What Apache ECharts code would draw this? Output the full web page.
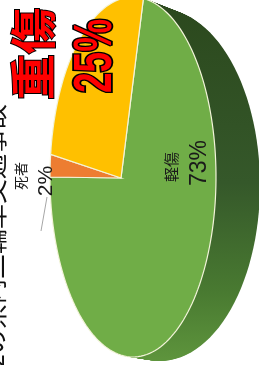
<!DOCTYPE html>
<html>
<head>
<meta charset="utf-8">
<script src="https://cdn.jsdelivr.net/npm/echarts@6/dist/echarts.min.js"></script>
<style>
  html, body { margin: 0; padding: 0; background: #fff; }
  #chart { width: 259px; height: 365px; }
</style>
</head>
<body>
<div id="chart"></div>
<script>
const names = ["軽傷", "死者", "重傷"];
const values = [73, 2, 25];
const colors = ["#70ad47", "#ed7d31", "#ffc000"];
const title = "2の県内二輪車交通事故";

const total = values.reduce((a, b) => a + b, 0);

// top face of the tilted pie (turned on its side)
const face = { cx: 133, cy: 177, rx: 83, ry: 180 };
// far rim of the pie, the side is swept between the two
const back = { cx: 160, cy: 185, rx: 100, ry: 176 };
const apexX = 121, apexY = 178;
const startDeg = -82.8;

function ellipsePts(e, a0, a1, n) {
  const pts = [];
  for (let j = 0; j <= n; j++) {
    const t = (a0 + (a1 - a0) * j / n) * Math.PI / 180;
    pts.push([e.cx + e.rx * Math.cos(t), e.cy + e.ry * Math.sin(t)]);
  }
  return pts;
}

const sideFill = new echarts.graphic.LinearGradient(0, 0, 0, 365, [
  { offset: 0, color: "#2b481d" },
  { offset: 0.5, color: "#35582a" },
  { offset: 0.8, color: "#497a31" },
  { offset: 1, color: "#5f963d" }
], true);

const chart = echarts.init(document.getElementById("chart"));

chart.setOption({
  animation: false,
  series: [
    {
      // the depth of the pie
      type: "custom",
      coordinateSystem: "none",
      z: 1,
      silent: true,
      data: [0],
      renderItem: function () {
        const children = [];
        const steps = 40;
        for (let s = steps; s >= 1; s--) {
          const f = s / steps;
          const e = {
            cx: face.cx + (back.cx - face.cx) * f,
            cy: face.cy + (back.cy - face.cy) * f,
            rx: face.rx + (back.rx - face.rx) * f,
            ry: face.ry + (back.ry - face.ry) * f
          };
          children.push({
            type: "polygon",
            shape: { points: ellipsePts(e, 0, 360, 120) },
            style: { fill: sideFill }
          });
        }
        return { type: "group", children: children };
      }
    },
    {
      type: "custom",
      coordinateSystem: "none",
      z: 2,
      data: values.map((v, i) => ({ value: v, name: names[i] })),
      renderItem: function (params, api) {
        const i = params.dataIndex;
        let acc = 0;
        for (let k = 0; k < i; k++) acc += values[k];
        const a0 = startDeg + acc / total * 360;
        const a1 = a0 + api.value(0) / total * 360;
        const n = Math.max(4, Math.ceil((a1 - a0) / 2));
        const pts = [[apexX, apexY]].concat(ellipsePts(face, a0, a1, n));
        return {
          type: "polygon",
          shape: { points: pts },
          style: { fill: colors[i], stroke: "#f3f4da", lineWidth: 1.2 }
        };
      }
    }
  ],
  graphic: [
    {
      type: "text", z: 100, x: -6, y: 104, rotation: Math.PI / 2,
      style: {
        text: title, font: '25px "Noto Sans CJK JP"', fill: "#111",
        align: "right", verticalAlign: "middle"
      }
    },
    {
      type: "text", z: 100, x: 33, y: 54, rotation: Math.PI / 2,
      style: {
        text: names[2], font: 'bold 46px "Noto Sans CJK JP"', fill: "#ff0000",
        stroke: "#000", lineWidth: 2, align: "center", verticalAlign: "middle"
      }
    },
    {
      type: "text", z: 100, x: 96, y: 56, rotation: Math.PI / 2, scaleY: 1.45,
      style: {
        text: values[2] + "%", font: 'bold 37px "Liberation Sans"', fill: "#ff0000",
        stroke: "#000", lineWidth: 2.5, align: "center", verticalAlign: "middle"
      }
    },
    {
      type: "text", z: 100, x: 171, y: 167, rotation: Math.PI / 2,
      style: {
        text: names[0], font: '15px "Noto Sans CJK JP"', fill: "#1a1a1a",
        align: "center", verticalAlign: "middle"
      }
    },
    {
      type: "text", z: 100, x: 200, y: 163, rotation: Math.PI / 2,
      style: {
        text: values[0] + "%", font: '23px "Liberation Sans"', fill: "#1a1a1a",
        align: "center", verticalAlign: "middle"
      }
    },
    {
      type: "text", z: 100, x: 21, y: 176, rotation: Math.PI / 2,
      style: {
        text: names[1], font: '14px "Noto Sans CJK JP"', fill: "#1a1a1a",
        align: "center", verticalAlign: "middle"
      }
    },
    {
      type: "text", z: 100, x: 46, y: 181, rotation: Math.PI / 2,
      style: {
        text: values[1] + "%", font: '21px "Liberation Sans"', fill: "#1a1a1a",
        align: "center", verticalAlign: "middle"
      }
    },
    {
      type: "line", z: 100,
      shape: { x1: 47, y1: 197, x2: 41, y2: 231 },
      style: { stroke: "#a6a6a6", lineWidth: 1 }
    }
  ]
});
</script>
</body>
</html>
